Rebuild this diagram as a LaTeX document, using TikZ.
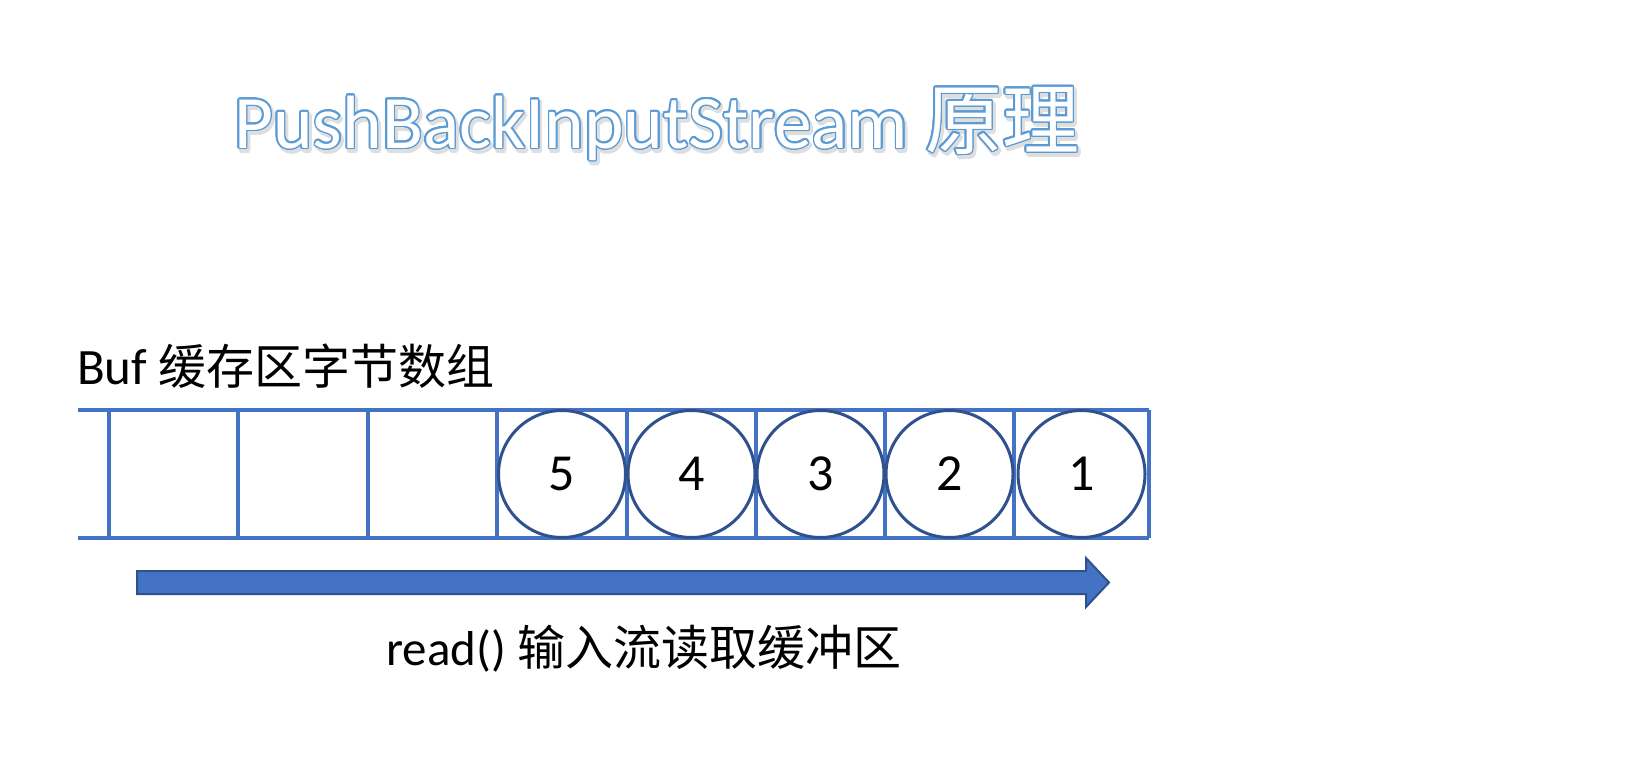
\documentclass[tikz,border=0pt]{standalone}
\usepackage{fontspec}
\setmainfont{Carlito}
\newfontfamily\cjk{Noto Sans CJK SC}
\usepackage[copies]{contour}
\definecolor{cellblue}{HTML}{4472C4}
\definecolor{circblue}{HTML}{2F528F}
\definecolor{titleblue}{HTML}{5B9BD5}
\tikzset{
  cellline/.style={draw=cellblue, line width=3.3pt},
  ball/.style={circle, draw=circblue, line width=3pt, fill=white, minimum size=127pt, inner sep=0pt, font=\fontsize{52}{56}\selectfont},
  lbl/.style={anchor=base west, inner sep=0pt},
  blockarrow/.style={fill=cellblue, draw=circblue, line width=2pt, line join=miter},
}
\newcommand\titletext{{\fontsize{75.5}{80}\selectfont PushBackInputStream }{\cjk\fontsize{77}{80}\selectfont 原理}}
\begin{document}
\begin{tikzpicture}[x=1pt,y=-1pt]
\useasboundingbox (0,0) rectangle (1651,760);
\fill[white] (0,0) rectangle (1651,760);
% title shadow and title (white letters, blue outline)
\node[lbl, text=black!13] (titleshadow) at (236,151)
  {\contourlength{2.2pt}\contour{black!13}{\titletext}};
\node[lbl, text=white] (title) at (234,148)
  {\contourlength{1.5pt}\contour{titleblue}{\titletext}};
% label above buffer
\node[lbl] (buf) at (77,384) {\fontsize{51}{60}\selectfont Buf {\cjk\fontsize{48}{60}\selectfont 缓存区字节数组}};
% buffer cells
\draw[cellline] (78,410) -- (1149,410);
\draw[cellline] (78,538) -- (1149,538);
\foreach \x in {109,238,368,497,627,756,885,1014,1149} {
  \draw[cellline] (\x,410) -- (\x,538);
}
% occupied cells
\node[ball] (b5) at (562,474) {5};
\node[ball] (b4) at (691.5,474) {4};
\node[ball] (b3) at (820.5,474) {3};
\node[ball] (b2) at (949.5,474) {2};
\node[ball] (b1) at (1081.5,474) {1};
% read arrow
\draw[blockarrow] (137,571) -- (1086,571) -- (1086,558) -- (1109,582.5) -- (1086,607) -- (1086,594) -- (137,594) -- cycle;
\node[lbl] (read) at (386,665) {\fontsize{49}{60}\selectfont read() {\cjk\fontsize{48}{60}\selectfont 输入流读取缓冲区}};
\end{tikzpicture}
\end{document}
